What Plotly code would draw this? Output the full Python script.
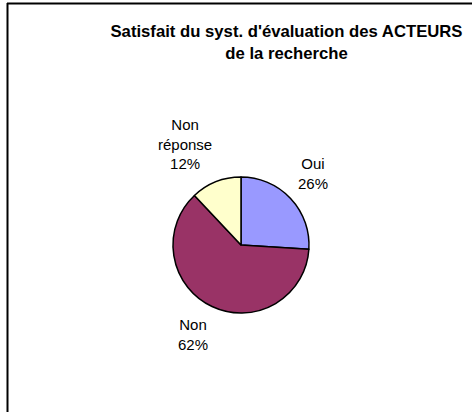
import math
import plotly.graph_objects as go

categories = ["Oui", "Non", "Non réponse"]
display_labels = ["Oui", "Non", "Non<br>réponse"]
values = [26, 62, 12]
colors = ["#9999FF", "#993366", "#FFFFCC"]
title_text = "Satisfait du syst. d'évaluation des ACTEURS<br>de la recherche"

W, H = 472, 412
cx, cy, r = 241, 245, 68
label_gap = 10  # distance of label box corner beyond the rim (px)
FONT = "Liberation Sans, Arial, sans-serif"

fig = go.Figure(go.Pie(
    labels=categories,
    values=values,
    textinfo="none",
    sort=False,
    direction="clockwise",
    rotation=0,
    marker=dict(colors=colors, line=dict(color="#000000", width=1.5)),
    domain=dict(x=[(cx - r) / W, (cx + r) / W], y=[(H - cy - r) / H, (H - cy + r) / H]),
    showlegend=False,
    hoverinfo="label+percent",
))

# Excel-style outside labels: nearest corner of the label box sits on the slice's mid-angle
total = sum(values)
annotations = []
cum = 0
for lab, v in zip(display_labels, values):
    mid = (cum + v / 2) / total * 2 * math.pi
    cum += v
    R = r + label_gap
    px = cx + R * math.sin(mid)
    py = cy - R * math.cos(mid)
    pct = round(v / total * 100)
    annotations.append(dict(
        x=px / W, y=1 - py / H, xref="paper", yref="paper",
        text=f"{lab}<br>{pct}%",
        showarrow=False,
        xanchor="left" if math.sin(mid) >= 0 else "right",
        yanchor="bottom" if math.cos(mid) >= 0 else "top",
        align="center",
        borderpad=0, borderwidth=0,
        font=dict(family=FONT, size=15, color="#000000"),
    ))

fig.update_layout(
    width=W, height=H,
    margin=dict(l=0, r=0, t=0, b=0),
    paper_bgcolor="white",
    plot_bgcolor="white",
    title=dict(
        text="<b>" + title_text + "</b>",
        x=286.5 / W, xanchor="center",
        y=1 - 37 / H, yanchor="top",
        font=dict(family=FONT, size=16.7, color="#000000"),
    ),
    annotations=annotations,
    shapes=[
        dict(type="line", xref="paper", yref="paper", x0=7 / W, x1=1.0, y0=1 - 3.5 / H, y1=1 - 3.5 / H,
             line=dict(color="#000000", width=2)),
        dict(type="line", xref="paper", yref="paper", x0=7.5 / W, x1=7.5 / W, y0=0.0, y1=1 - 3 / H,
             line=dict(color="#000000", width=2)),
    ],
)

fig.write_html(
    "out.html",
    config={"displayModeBar": False},
    post_script=(
        "document.documentElement.style.margin='0';document.documentElement.style.overflow='hidden';"
        "document.body.style.margin='0';document.body.style.padding='0';document.body.style.overflow='hidden';"
    ),
)
